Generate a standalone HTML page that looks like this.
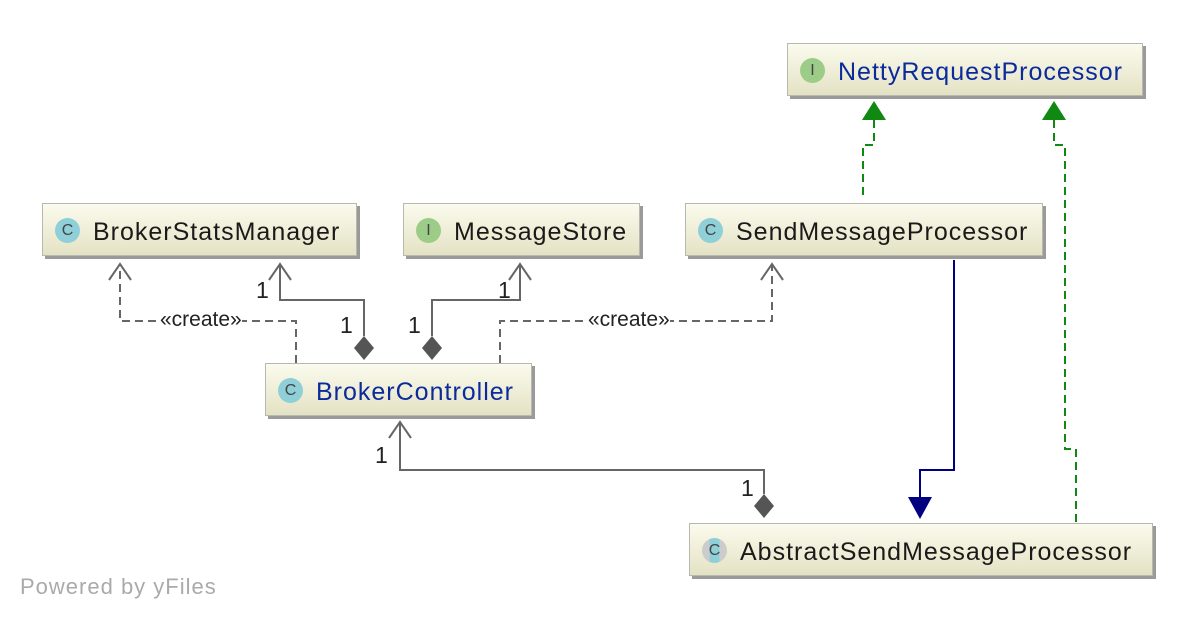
<!DOCTYPE html>
<html><head><meta charset="utf-8"><style>
body{margin:0;background:#fff;width:1196px;height:620px;overflow:hidden;position:relative;font-family:"Liberation Sans",sans-serif}
.b{position:absolute;height:53px;box-sizing:border-box;border:1px solid #b8b8b0;background:linear-gradient(#fbfbee,#e4e2c4);box-shadow:3px 3px 0 #9a9a98;font-size:25px;letter-spacing:1px;line-height:56px;color:#1a1a1a;padding-left:50px;white-space:nowrap}
.b .i{position:absolute;left:12px;top:14px;width:25px;height:25px;border-radius:50%;font-size:16px;letter-spacing:0;line-height:25px;text-align:center;color:#444}
.c{background:#8ecfd8}.n{background:#9ccc88}
.blue{color:#0b2a9c}
.t{position:absolute;font-size:23px;color:#222}
</style></head><body>
<svg width="1196" height="620" style="position:absolute;left:0;top:0">
<g fill="none" stroke="#666" stroke-width="2">
<path d="M296 363V321H120V264" stroke-dasharray="8 5"/>
<path d="M109 280L120 264L131 280"/>
<path d="M364 336V300H280V264"/>
<path d="M269 280L280 264L291 280"/>
<path d="M432 336V300H520V264"/>
<path d="M509 280L520 264L531 280"/>
<path d="M500 363V321H772V264" stroke-dasharray="8 5"/>
<path d="M761 280L772 264L783 280"/>
<path d="M400 422V470H764V494"/>
<path d="M389 438L400 422L411 438"/>
</g>
<g fill="#555"><path d="M364 336L374 348L364 360L354 348Z"/><path d="M432 336L442 348L432 360L422 348Z"/><path d="M764 494L774 506L764 518L754 506Z"/></g>
<path d="M954 260V470H920V500" fill="none" stroke="#000080" stroke-width="2"/>
<path d="M908 497H932L920 519Z" fill="#000080"/>
<g fill="none" stroke="#118811" stroke-width="2" stroke-dasharray="8 5">
<path d="M863 195V145H874V118"/>
<path d="M1076 522V449H1065V145H1054V118"/>
</g>
<g fill="#118811"><path d="M862 120H886L874 101Z"/><path d="M1042 120H1066L1054 101Z"/></g>
</svg>
<div class="b" style="left:42px;top:203px;width:315px"><span class="i c">C</span>BrokerStatsManager</div>
<div class="b" style="left:403px;top:203px;width:237px"><span class="i n">I</span>MessageStore</div>
<div class="b" style="left:685px;top:203px;width:358px"><span class="i c">C</span>SendMessageProcessor</div>
<div class="b" style="left:787px;top:43px;width:356px"><span class="i n">I</span><span class="blue">NettyRequestProcessor</span></div>
<div class="b" style="left:265px;top:363px;width:267px"><span class="i c">C</span><span class="blue">BrokerController</span></div>
<div class="b" style="left:689px;top:523px;width:464px"><span class="i c" style="background:linear-gradient(90deg,#ccc 30%,#8ecfd8 30%,#8ecfd8 70%,#ccc 70%)">C</span>AbstractSendMessageProcessor</div>
<div class="t" style="left:160px;top:308px;background:#fff;font-size:21px">«create»</div>
<div class="t" style="left:588px;top:308px;background:#fff;font-size:21px">«create»</div>
<div class="t" style="left:256px;top:277px">1</div>
<div class="t" style="left:340px;top:312px">1</div>
<div class="t" style="left:498px;top:277px">1</div>
<div class="t" style="left:408px;top:312px">1</div>
<div class="t" style="left:375px;top:442px">1</div>
<div class="t" style="left:741px;top:475px">1</div>
<div class="t" style="left:20px;top:574px;color:#aaa;font-size:22px;letter-spacing:1px">Powered by yFiles</div>
</body></html>
